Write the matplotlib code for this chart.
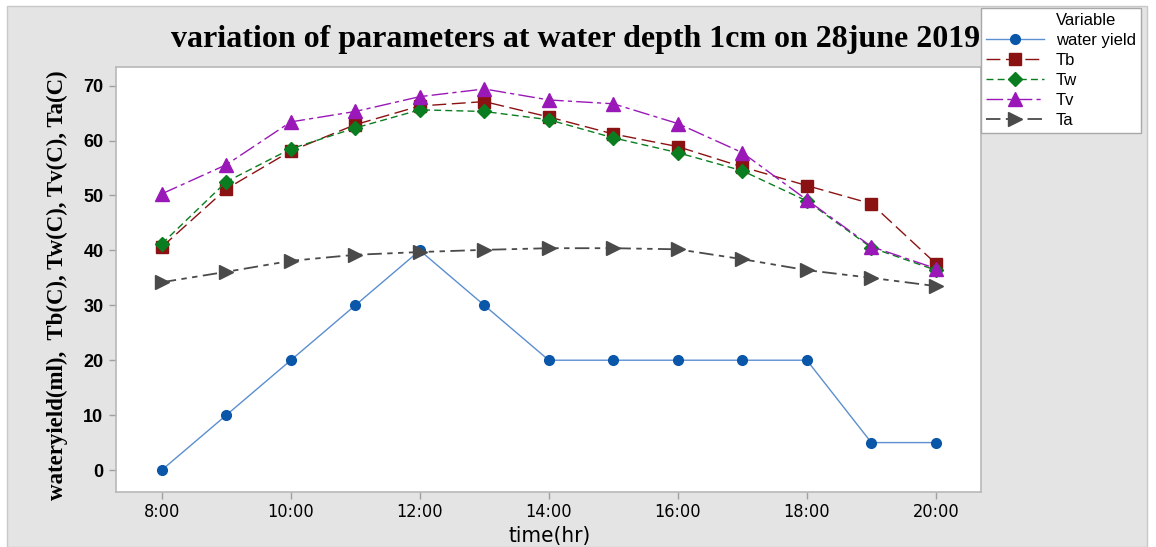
import matplotlib
matplotlib.use('Agg')
import matplotlib.pyplot as plt
from matplotlib.patches import Rectangle
from matplotlib.lines import Line2D

# Data
hours = [8, 9, 10, 11, 12, 13, 14, 15, 16, 17, 18, 19, 20]
tick_hours = [8, 10, 12, 14, 16, 18, 20]
tick_labels = ['8:00', '10:00', '12:00', '14:00', '16:00', '18:00', '20:00']

water_yield = [0, 10, 20, 30, 40, 30, 20, 20, 20, 20, 20, 5, 5]
tb = [40.6, 51.2, 58.1, 62.9, 66.3, 67.1, 64.3, 61.2, 58.9, 55.2, 51.8, 48.5, 37.6]
tw = [41.2, 52.5, 58.5, 62.3, 65.6, 65.3, 63.8, 60.5, 57.8, 54.5, 49.0, 40.5, 36.4]
tv = [50.3, 55.6, 63.4, 65.3, 68.0, 69.4, 67.4, 66.7, 63.1, 57.8, 49.2, 40.7, 36.7]
ta = [34.2, 36.1, 38.1, 39.2, 39.7, 40.1, 40.4, 40.4, 40.2, 38.4, 36.4, 35.0, 33.5]

fig = plt.figure(figsize=(11.56, 5.47), dpi=100)
fig.patch.set_facecolor('white')

# grey panel behind everything
fig.patches.append(Rectangle((7 / 1156, 0), 1140 / 1156, 541 / 547,
                             transform=fig.transFigure, facecolor='#e4e4e4',
                             edgecolor='#c8c8c8', linewidth=1, zorder=-10))

ax = fig.add_axes([116 / 1156, 1 - 492 / 547, 865 / 1156, 425 / 547])
ax.set_facecolor('white')

ax.plot(hours, water_yield, color='#5b8fd0', linewidth=1.0, marker='o',
        markersize=7, markerfacecolor='#0a56a8', markeredgecolor='#0a56a8',
        label='water yield')
ax.plot(hours, tb, color='#8b1212', linewidth=1.0, dashes=(10, 4), marker='s',
        markersize=8, markerfacecolor='#8b1212', markeredgecolor='#8b1212',
        label='Tb')
ax.plot(hours, tw, color='#0a7d20', linewidth=1.0, dashes=(5, 3), marker='D',
        markersize=7, markerfacecolor='#0a7d20', markeredgecolor='#0a7d20',
        label='Tw')
ax.plot(hours, tv, color='#9a18b8', linewidth=1.0, dashes=(12, 3, 3, 3), marker='^',
        markersize=10, markerfacecolor='#9a18b8', markeredgecolor='#9a18b8',
        label='Tv')
ax.plot(hours, ta, color='#4a4a4a', linewidth=1.3, dashes=(8, 3, 3, 3, 3, 3), marker='>',
        markersize=10, markerfacecolor='#4a4a4a', markeredgecolor='#4a4a4a',
        label='Ta')

ax.set_xlim(7.29, 20.7)
ax.set_ylim(-4.0, 73.4)
ax.set_xticks(tick_hours)
ax.set_xticklabels(tick_labels)
ax.set_yticks(range(0, 80, 10))

for s in ax.spines.values():
    s.set_color('#b8b8b8')
    s.set_linewidth(1.2)
ax.tick_params(axis='both', direction='out', length=5, color='#a0a0a0', width=1)
ax.tick_params(axis='x', labelsize=13, pad=3)
ax.tick_params(axis='y', labelsize=13, pad=4)
for lbl in ax.get_xticklabels():
    lbl.set_family(['DejaVu Sans'])
    lbl.set_fontstretch('condensed')
for lbl in ax.get_yticklabels():
    lbl.set_family(['Liberation Sans', 'DejaVu Sans'])
    lbl.set_fontweight('bold')

fig.text(576 / 1156, 1 - 40 / 547, 'variation of parameters at water depth 1cm on 28june 2019',
         ha='center', va='center', fontsize=23, fontweight='bold',
         family=['Liberation Serif', 'DejaVu Serif'])
fig.text(550 / 1156, 1 - 536 / 547, 'time(hr)', ha='center', va='center',
         fontsize=16, family=['DejaVu Sans'], fontstretch='condensed')
fig.text(57 / 1156, 1 - 285 / 547,
         'wateryield(ml),  Tb(C), Tw(C), Tv(C), Ta(C)',
         ha='center', va='center', rotation=90, fontsize=16.5, fontweight='bold',
         family=['Liberation Serif', 'DejaVu Serif'])

handles, labels = ax.get_legend_handles_labels()
header = Line2D([], [], linestyle='none', marker=None)
leg = fig.legend([header] + handles, ['Variable'] + labels,
                 loc='upper left', bbox_to_anchor=(981 / 1156, 1 - 8 / 547),
                 fontsize=12, frameon=True, fancybox=False, edgecolor='#a8a8a8',
                 framealpha=1, borderpad=0.3, labelspacing=0.3,
                 handlelength=3.5, handletextpad=0.7, borderaxespad=0)
leg.get_frame().set_linewidth(1)
for t in leg.get_texts():
    t.set_family(['Liberation Sans', 'DejaVu Sans'])

plt.savefig('out.png', dpi=100)
